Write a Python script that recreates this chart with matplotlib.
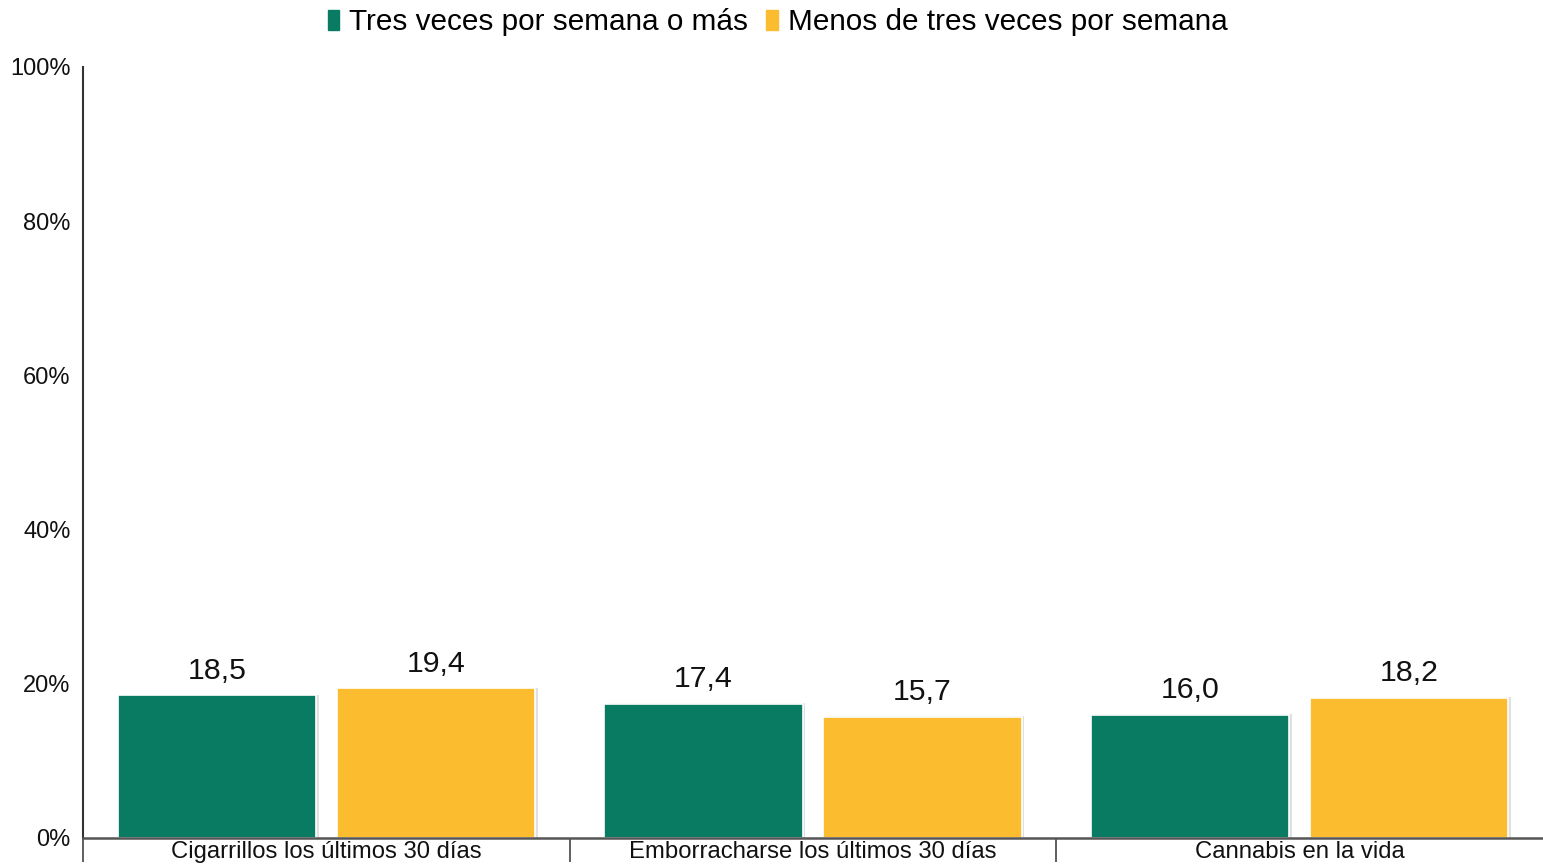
import matplotlib.pyplot as plt
import numpy as np

plt.rcParams['font.family'] = ['Liberation Sans', 'DejaVu Sans']

categorias = ['Cigarrillos los últimos 30 días', 'Emborracharse los últimos 30 días', 'Cannabis en la vida']
series = ['Tres veces por semana o más', 'Menos de tres veces por semana']
tres_o_mas = [18.5, 17.4, 16.0]
menos_de_tres = [19.4, 15.7, 18.2]
colores = ['#0a7b63', '#fbbc2f']

fig = plt.figure(figsize=(15.43, 8.64), dpi=100)
ax = fig.add_axes([0.0538, 0.0301, 0.9462, 0.8924])

x = np.arange(len(categorias))
ancho = 0.407
desplaz = 0.225

for valores, color, off in zip([tres_o_mas, menos_de_tres], colores, [-desplaz, desplaz]):
    # sombra suave a la derecha
    ax.bar(x + off + 0.006, np.array(valores) + 0.1, ancho, color='#e0e0e0', zorder=1)
    barras = ax.bar(x + off, valores, ancho, color=color, edgecolor='white', linewidth=1.2, zorder=2)
    for b, v in zip(barras, valores):
        ax.text(b.get_x() + b.get_width() / 2, v + 1.4, f'{v:.1f}'.replace('.', ','),
                ha='center', va='bottom', fontsize=21.8, color='#111111')

ax.set_xlim(-0.5, 2.5)
ax.set_ylim(0, 100)
ax.set_yticks(range(0, 101, 20))
ax.set_yticklabels([f'{t}%' for t in range(0, 101, 20)], fontsize=17, color='#111111')
ax.tick_params(axis='y', length=0, pad=9)

# separadores de categorias
ax.set_xticks([-0.5, 0.5, 1.5])
ax.set_xticklabels([])
ax.tick_params(axis='x', which='major', length=17, width=1.2, color='#444444', direction='out')
ax.set_xticks(x, minor=True)
ax.set_xticklabels(categorias, minor=True, fontsize=17.2, color='#111111')
ax.tick_params(axis='x', which='minor', length=0, pad=2.5)

for s in ['top', 'right']:
    ax.spines[s].set_visible(False)
ax.spines['left'].set_color('#333333')
ax.spines['left'].set_linewidth(1.5)
ax.spines['bottom'].set_color('#555555')
ax.spines['bottom'].set_linewidth(1.8)

handles = [plt.Rectangle((0, 0), 1, 1, color=c) for c in colores]
fig.legend(handles, series, loc='center', bbox_to_anchor=(0.504, 0.974), ncol=2, frameon=False,
           fontsize=21.4, handlelength=0.38, handleheight=0.7, handletextpad=0.35, columnspacing=0.6)

fig.savefig('out.png', dpi=100)
